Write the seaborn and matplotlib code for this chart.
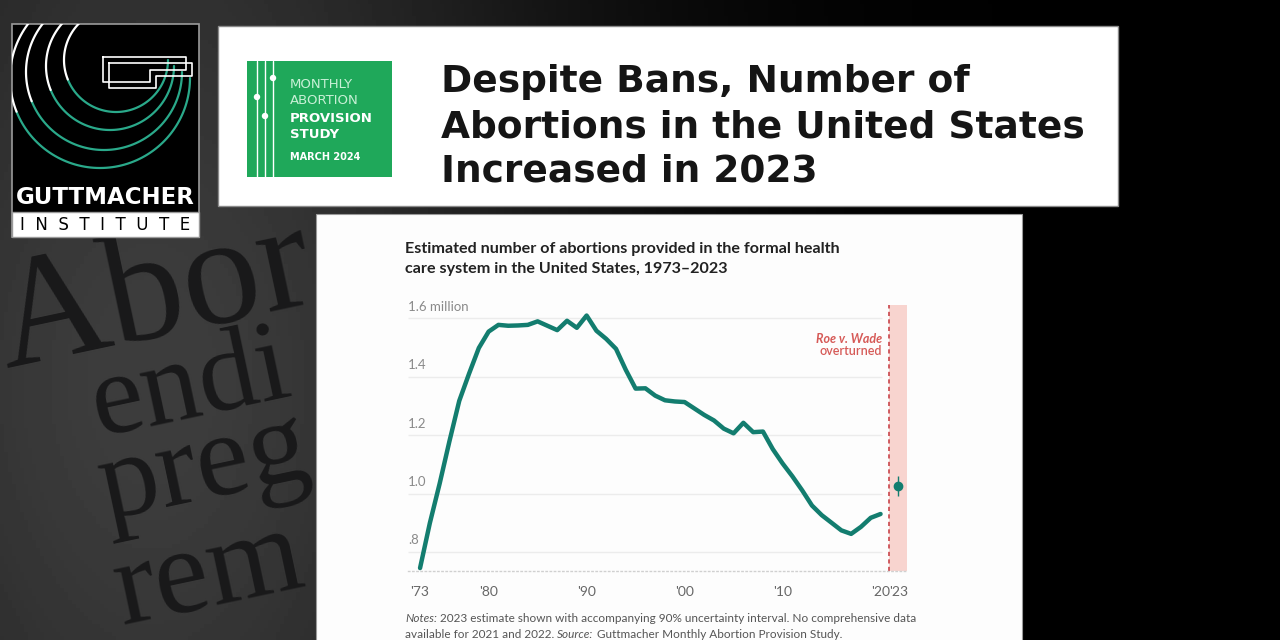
import numpy as np
import matplotlib
matplotlib.use("Agg")
import matplotlib.pyplot as plt
import seaborn as sns
from matplotlib.patches import Rectangle, Circle

# ---- chart data (abortions, millions) ----
years = list(range(1973, 2021))
abortions = [0.745, 0.899, 1.034, 1.179, 1.317, 1.410, 1.498, 1.554, 1.577, 1.574,
             1.575, 1.577, 1.589, 1.574, 1.559, 1.591, 1.567, 1.609, 1.557, 1.529,
             1.495, 1.423, 1.359, 1.360, 1.335, 1.319, 1.315, 1.313, 1.291, 1.269,
             1.250, 1.222, 1.206, 1.242, 1.210, 1.212, 1.152, 1.103, 1.059, 1.011,
             0.959, 0.926, 0.900, 0.874, 0.862, 0.886, 0.917, 0.930]
est_year = 2023
est_value = 1.027
est_low = 0.99
est_high = 1.06

y_ticks = [0.8, 1.0, 1.2, 1.4, 1.6]
y_tick_labels = ['.8', '1.0', '1.2', '1.4', '1.6 million']
x_ticks = [1973, 1980, 1990, 2000, 2010, 2020, 2023]
x_tick_labels = ["'73", "'80", "'90", "'00", "'10", "'20", "'23"]

title_lines = ['Despite Bans, Number of',
               'Abortions in the United States',
               'Increased in 2023']
subtitle_lines = ['Estimated number of abortions provided in the formal health',
                  'care system in the United States, 1973\u20132023']
notes_lines = [[('Notes:', 'italic'), (' 2023 estimate shown with accompanying 90% uncertainty interval. No comprehensive data', 'normal')],
               [('available for 2021 and 2022. ', 'normal'), ('Source:', 'italic'), (' Guttmacher Monthly Abortion Provision Study.', 'normal')]]
badge_lines = ['MONTHLY', 'ABORTION', 'PROVISION', 'STUDY', 'MARCH 2024']

TEAL = '#137d6f'
ROE_RED = '#d65a57'
W, H = 1280, 640

sns.set_theme(style='white')
plt.rcParams['font.family'] = ['Lato', 'DejaVu Sans']


def px_box(x0, y0, x1, y1):
    """Pixel box (top-left origin) -> figure fraction rect."""
    return [x0 / W, 1 - y1 / H, (x1 - x0) / W, (y1 - y0) / H]


def compress(x):
    x = np.asarray(x, dtype=float)
    return np.where(x <= 2020, x, 2020 + (x - 2020) * 0.6)


def expand(x):
    x = np.asarray(x, dtype=float)
    return np.where(x <= 2020, x, 2020 + (x - 2020) / 0.6)


fig = plt.figure(figsize=(12.8, 6.4), dpi=100)

# ---- broadcast backdrop ----
bg = fig.add_axes([0, 0, 1, 1])
bg.set_xlim(0, W)
bg.set_ylim(H, 0)
bg.axis('off')

yy, xx = np.mgrid[0:H:4, 0:W:4]
shade = 0.24 * np.exp(-((xx - 150) ** 2) / (2 * 300 ** 2)) * (0.7 + 0.3 * np.exp(-((yy - 380) ** 2) / (2 * 260 ** 2)))
bg.imshow(shade, cmap='gray', vmin=0, vmax=1, extent=(0, W, H, 0), aspect='auto', zorder=0)

for word, x, y, size in [('Abor', 6, 368, 112), ('endi', 98, 436, 84),
                         ('preg', 106, 520, 86), ('rem', 122, 625, 88)]:
    bg.text(x, y, word, fontsize=size, family='Liberation Serif', color='#19191a',
            rotation=12, rotation_mode='anchor', ha='left', va='baseline', zorder=1)

# logo
logo = Rectangle((12, 24), 187, 213, fc='black', ec='#9a9a9a', lw=1.2, zorder=3)
bg.add_patch(logo)
for cx, cy, r in [(100, 78, 90), (104, 72, 78), (110, 66, 64), (116, 60, 52)]:
    t = np.radians(np.linspace(0, 158, 80))
    ln, = bg.plot(cx + r * np.cos(t), cy + r * np.sin(t), color='#2aa98a', lw=1.6, zorder=4)
    ln.set_clip_path(logo)
    t = np.radians(np.linspace(158, 268, 60))
    ln, = bg.plot(cx + r * np.cos(t), cy + r * np.sin(t), color='white', lw=1.6, zorder=4)
    ln.set_clip_path(logo)
for dx in (0, 6):
    bg.plot([103 + dx, 186 + dx, 186 + dx, 150 + dx, 150 + dx, 103 + dx, 103 + dx],
            [57 + dx, 57 + dx, 70 + dx, 70 + dx, 82 + dx, 82 + dx, 57 + dx],
            color='white', lw=1.2, zorder=5)
bg.text(105, 197, 'GUTTMACHER', color='white', fontsize=16.5, weight='bold',
        ha='center', va='center', family='DejaVu Sans', zorder=5)
bg.add_patch(Rectangle((12, 212), 187, 25, fc='white', ec='#9a9a9a', lw=1, zorder=4))
bg.text(105, 225, 'I  N  S  T  I  T  U  T  E', color='black', fontsize=12,
        ha='center', va='center', family='DejaVu Sans', zorder=5)

# title card
bg.add_patch(Rectangle((218, 26), 900, 180, fc='white', ec='#8a8a8a', lw=1, zorder=3))
bg.add_patch(Rectangle((247, 61), 145, 116, fc='#1fa85a', lw=0, zorder=4))
for lx in (257, 265, 273):
    bg.plot([lx, lx], [61, 177], color='white', lw=1, zorder=5)
for lx, ly in [(273, 78), (257, 97), (265, 116)]:
    bg.add_patch(Circle((lx, ly), 3.2, fc='white', lw=0, zorder=6))
badge_y = [85, 101, 118, 135, 157]
for i, txt in enumerate(badge_lines):
    bold = i >= 2
    bg.text(290, badge_y[i], txt, color='white' if bold else '#c8f0d6',
            fontsize=7 if i == 4 else 9.5, weight='bold' if bold else 'normal',
            ha='left', va='center', family='DejaVu Sans', zorder=6)
for i, line in enumerate(title_lines):
    bg.text(441, 82 + 45 * i, line, color='#151515', fontsize=27, weight='bold',
            ha='left', va='center', family='DejaVu Sans', zorder=5)

# chart card
bg.add_patch(Rectangle((316, 214), 706, 440, fc='#fdfdfd', ec='#9a9a9a', lw=0.8, zorder=3))
for i, line in enumerate(subtitle_lines):
    bg.text(405, 249 + 20 * i, line, color='#222222', fontsize=11.6, weight='bold',
            ha='left', va='center', zorder=5)

fig.canvas.draw()
renderer = fig.canvas.get_renderer()
for i, runs in enumerate(notes_lines):
    x = 405
    for txt, style in runs:
        t = bg.text(x, 619 + 15 * i, txt, color='#555555', fontsize=8.45, style=style,
                    ha='left', va='center', zorder=5)
        x += t.get_window_extent(renderer).width

# ---- the chart itself ----
ax = fig.add_axes(px_box(408, 305, 907, 571))
ax.set_zorder(5)
ax.patch.set_alpha(0)
ax.set_xscale('function', functions=(compress, expand))
ax.set_xlim(1971.77, 2024.5)
ax.set_ylim(0.735, 1.645)

ROE_X = 2021.5
ax.axvspan(ROE_X, 2024.5, color='#f8d4cf', lw=0, zorder=0)
ax.axvline(ROE_X, color='#c9444a', lw=1.2, ls=(0, (2.5, 2)), zorder=2)
for v, lab in zip(y_ticks, y_tick_labels):
    ax.hlines(v, 1971.77, 2020.2, color='#ececec', lw=1, zorder=1)
    ax.annotate(lab, xy=(0, v), xycoords=('axes fraction', 'data'), xytext=(0, 4),
                textcoords='offset points', ha='left', va='bottom', fontsize=9.5, color='#8a8a8a')

sns.lineplot(x=years, y=abortions, ax=ax, color=TEAL, lw=3.2, zorder=3)
ax.errorbar([est_year], [est_value], yerr=[[est_value - est_low], [est_high - est_value]],
            fmt='o', color=TEAL, ms=6, elinewidth=1, capsize=0, zorder=4)

ax.annotate('Roe v. Wade', xy=(ROE_X, 1.6), xytext=(-5, -15), textcoords='offset points',
            ha='right', va='center', fontsize=9, style='italic', weight='bold', color=ROE_RED)
ax.annotate('overturned', xy=(ROE_X, 1.6), xytext=(-5, -24), textcoords='offset points',
            ha='right', va='center', fontsize=9, weight='semibold', color=ROE_RED)

ax.set_xticks(x_ticks, x_tick_labels)
ax.set_yticks([])
ax.tick_params(axis='x', length=0, pad=11, labelsize=10, labelcolor='#666666')
ax.set_xlabel('')
ax.set_ylabel('')
for s in ['left', 'right', 'top']:
    ax.spines[s].set_visible(False)
ax.spines['bottom'].set_linestyle((0, (1, 2)))
ax.spines['bottom'].set_color('#d0d0d0')
ax.spines['bottom'].set_linewidth(1)

fig.savefig('out.png', dpi=100)
